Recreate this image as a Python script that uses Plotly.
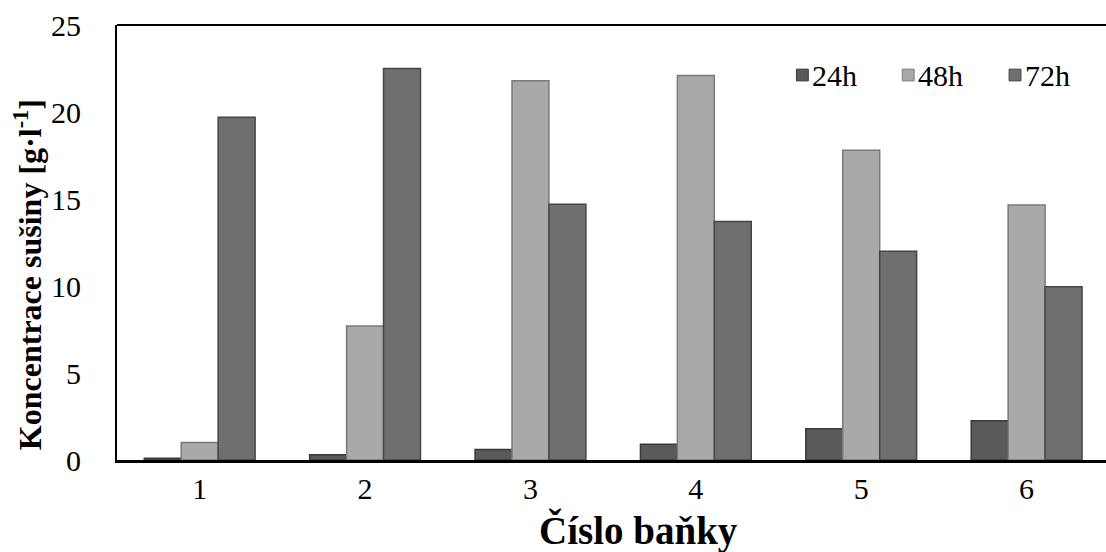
import plotly.graph_objects as go

# Flask numbers and dry-matter concentration at each sampling time
flasks = [1, 2, 3, 4, 5, 6]
conc_24h = [0.1, 0.3, 0.6, 0.9, 1.8, 2.25]
conc_48h = [1.0, 7.7, 21.8, 22.1, 17.8, 14.65]
conc_72h = [19.7, 22.5, 14.7, 13.7, 12.0, 9.95]
y_ticks = [0, 5, 10, 15, 20, 25]
series_names = ["24h", "48h", "72h"]

fills = ["#5a5a5a", "#a9a9a9", "#6f6f6f"]
edges = ["#3a3a3a", "#7a7a7a", "#454545"]

serif = "Liberation Serif"

fig = go.Figure()
for name, vals, fill, edge in zip(series_names, [conc_24h, conc_48h, conc_72h], fills, edges):
    fig.add_trace(go.Bar(
        name=name, x=flasks, y=vals,
        marker=dict(color=fill, line=dict(color=edge, width=1.5)),
    ))

# Legend: small square swatches (paper-space rects) followed by serif labels
legend_labels = []
legend_swatches = []
swatch_x = [0.693, 0.800, 0.908]
half_w, half_h = 0.006, 0.0135
for name, fill, edge, sx in zip(series_names, fills, edges, swatch_x):
    legend_swatches.append(dict(
        type="rect", xref="paper", yref="paper",
        x0=sx - half_w, x1=sx + half_w, y0=0.885 - half_h, y1=0.885 + half_h,
        fillcolor=fill, line=dict(color=edge, width=1)))
    legend_labels.append(dict(
        text=name, xref="paper", yref="paper", x=sx + 0.008, y=0.885,
        xanchor="left", yanchor="middle", showarrow=False,
        font=dict(family=serif, size=30, color="black")))

fig.update_layout(
    width=1106, height=552,
    margin=dict(l=117, r=0, t=25, b=92),
    paper_bgcolor="white", plot_bgcolor="white",
    barmode="group", bargap=0.33, bargroupgap=0,
    font=dict(family=serif, size=30, color="black"),
    showlegend=False,
    xaxis=dict(
        range=[0.5, 6.48], tickmode="array", tickvals=flasks,
        showline=True, linecolor="black", linewidth=3,
        ticks="", showgrid=False, zeroline=False,
        tickfont=dict(family=serif, size=30),
    ),
    yaxis=dict(
        range=[0, 25], tickmode="array", tickvals=y_ticks,
        showline=True, linecolor="black", linewidth=2,
        ticks="", showgrid=False, zeroline=False,
        tickfont=dict(family=serif, size=30), ticklabelstandoff=28,
    ),
    annotations=[
        dict(text="<b>Číslo baňky</b>", xref="paper", yref="paper",
             x=0.527, y=0, yshift=-70, xanchor="center", yanchor="middle",
             showarrow=False, font=dict(family=serif, size=39)),
        dict(text="<b>Koncentrace sušiny [g·l<sup>-1</sup>]</b>", xref="paper", yref="paper",
             x=0, xshift=-89, y=0.425, xanchor="center", yanchor="middle",
             textangle=-90, showarrow=False, font=dict(family=serif, size=32)),
    ] + legend_labels,
    shapes=[dict(type="line", xref="paper", yref="paper", x0=0, x1=1, y0=1, y1=1,
                 line=dict(color="black", width=2))] + legend_swatches,
)

fig.write_html("out.html")
